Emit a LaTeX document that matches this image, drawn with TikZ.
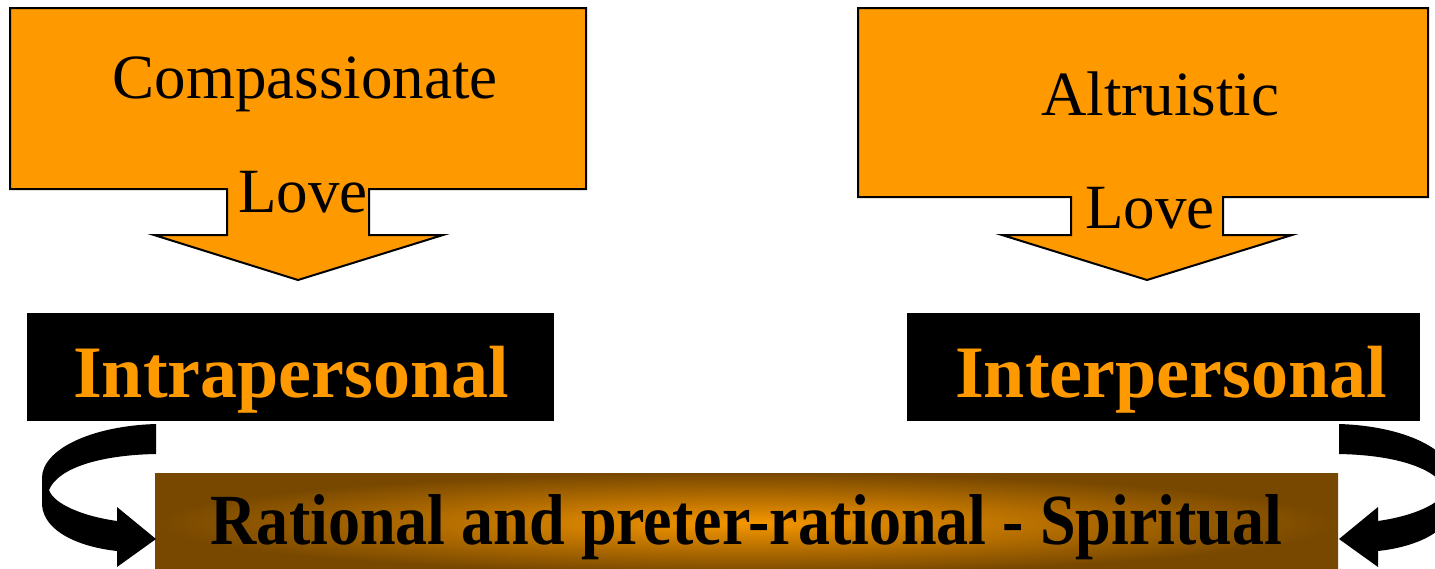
\documentclass[tikz,border=0pt]{standalone}
\usepackage{fontspec}
\setmainfont{Liberation Serif}
\definecolor{calloutorange}{RGB}{255,153,0}
\definecolor{edgebrown}{RGB}{120,72,0}
\definecolor{gloworange}{RGB}{245,150,0}
\begin{document}
\begin{tikzpicture}
  [x=1pt,y=-1pt,
   callout/.style={fill=calloutorange,draw=black,line width=2pt,line join=miter},
   calltext/.style={anchor=base,inner sep=0,font=\fontsize{63}{70}\selectfont},
   headbox/.style={fill=black,minimum height=108pt,inner sep=0},
   headtext/.style={anchor=base,inner sep=0,text=calloutorange,font=\bfseries\fontsize{74}{80}\selectfont},
   turnarrow/.style={fill=black}]
  \useasboundingbox (0,0) rectangle (1435,568);
  \clip (0,0) rectangle (1435,568);
  \draw[callout] (10,8) -- (586,8) -- (586,189) -- (369,189) -- (369,235) -- (443,235) -- (298,280)
    -- (154,235) -- (227,235) -- (227,189) -- (10,189) -- cycle;
  \draw[callout] (858,8) -- (1428,8) -- (1428,197) -- (1223,197) -- (1223,235) -- (1292,235) -- (1147,280)
    -- (1002,235) -- (1071,235) -- (1071,197) -- (858,197) -- cycle;
  \node (comp)[calltext] at (305,98) {Compassionate};
  \node (lovel)[calltext] at (303,212) {Love};
  \node (altr)[calltext] at (1160,115) {Altruistic};
  \node (lover)[calltext] at (1150,228) {Love};
  \node (intra)[headbox,minimum width=527pt] at (290.5,367) {};
  \node (inter)[headbox,minimum width=513pt] at (1163.5,367) {};
  \node[headtext] at (291,397) {Intrapersonal};
  \node[headtext] at (1171,397) {Interpersonal};
  \node (spirit)[inner color=gloworange,outer color=edgebrown,minimum width=1183pt,minimum height=100pt,inner sep=0] at (746.5,523) {};
  \node[anchor=base,inner sep=0,font=\bfseries\fontsize{72}{78}\selectfont] at (746.5,544)
    {\scalebox{0.89}[1]{Rational and preter-rational - Spiritual}};
  \fill[turnarrow] (156,424) .. controls (90,426) and (42,450) .. (42,478) -- (42,505)
    .. controls (44,532) and (80,547) .. (117,551) -- (117,567) -- (156,539) -- (117,507) -- (117,521)
    .. controls (82,516) and (54,504) .. (49,490) .. controls (58,468) and (100,455) .. (156,454) -- cycle;
  \fill[turnarrow] (1339,424) .. controls (1405,426) and (1453,450) .. (1453,478) -- (1453,505)
    .. controls (1451,532) and (1415,547) .. (1378,551) -- (1378,567) -- (1339,539) -- (1378,507) -- (1378,521)
    .. controls (1413,516) and (1441,504) .. (1446,490) .. controls (1437,468) and (1395,455) .. (1339,454) -- cycle;
\end{tikzpicture}
\end{document}
